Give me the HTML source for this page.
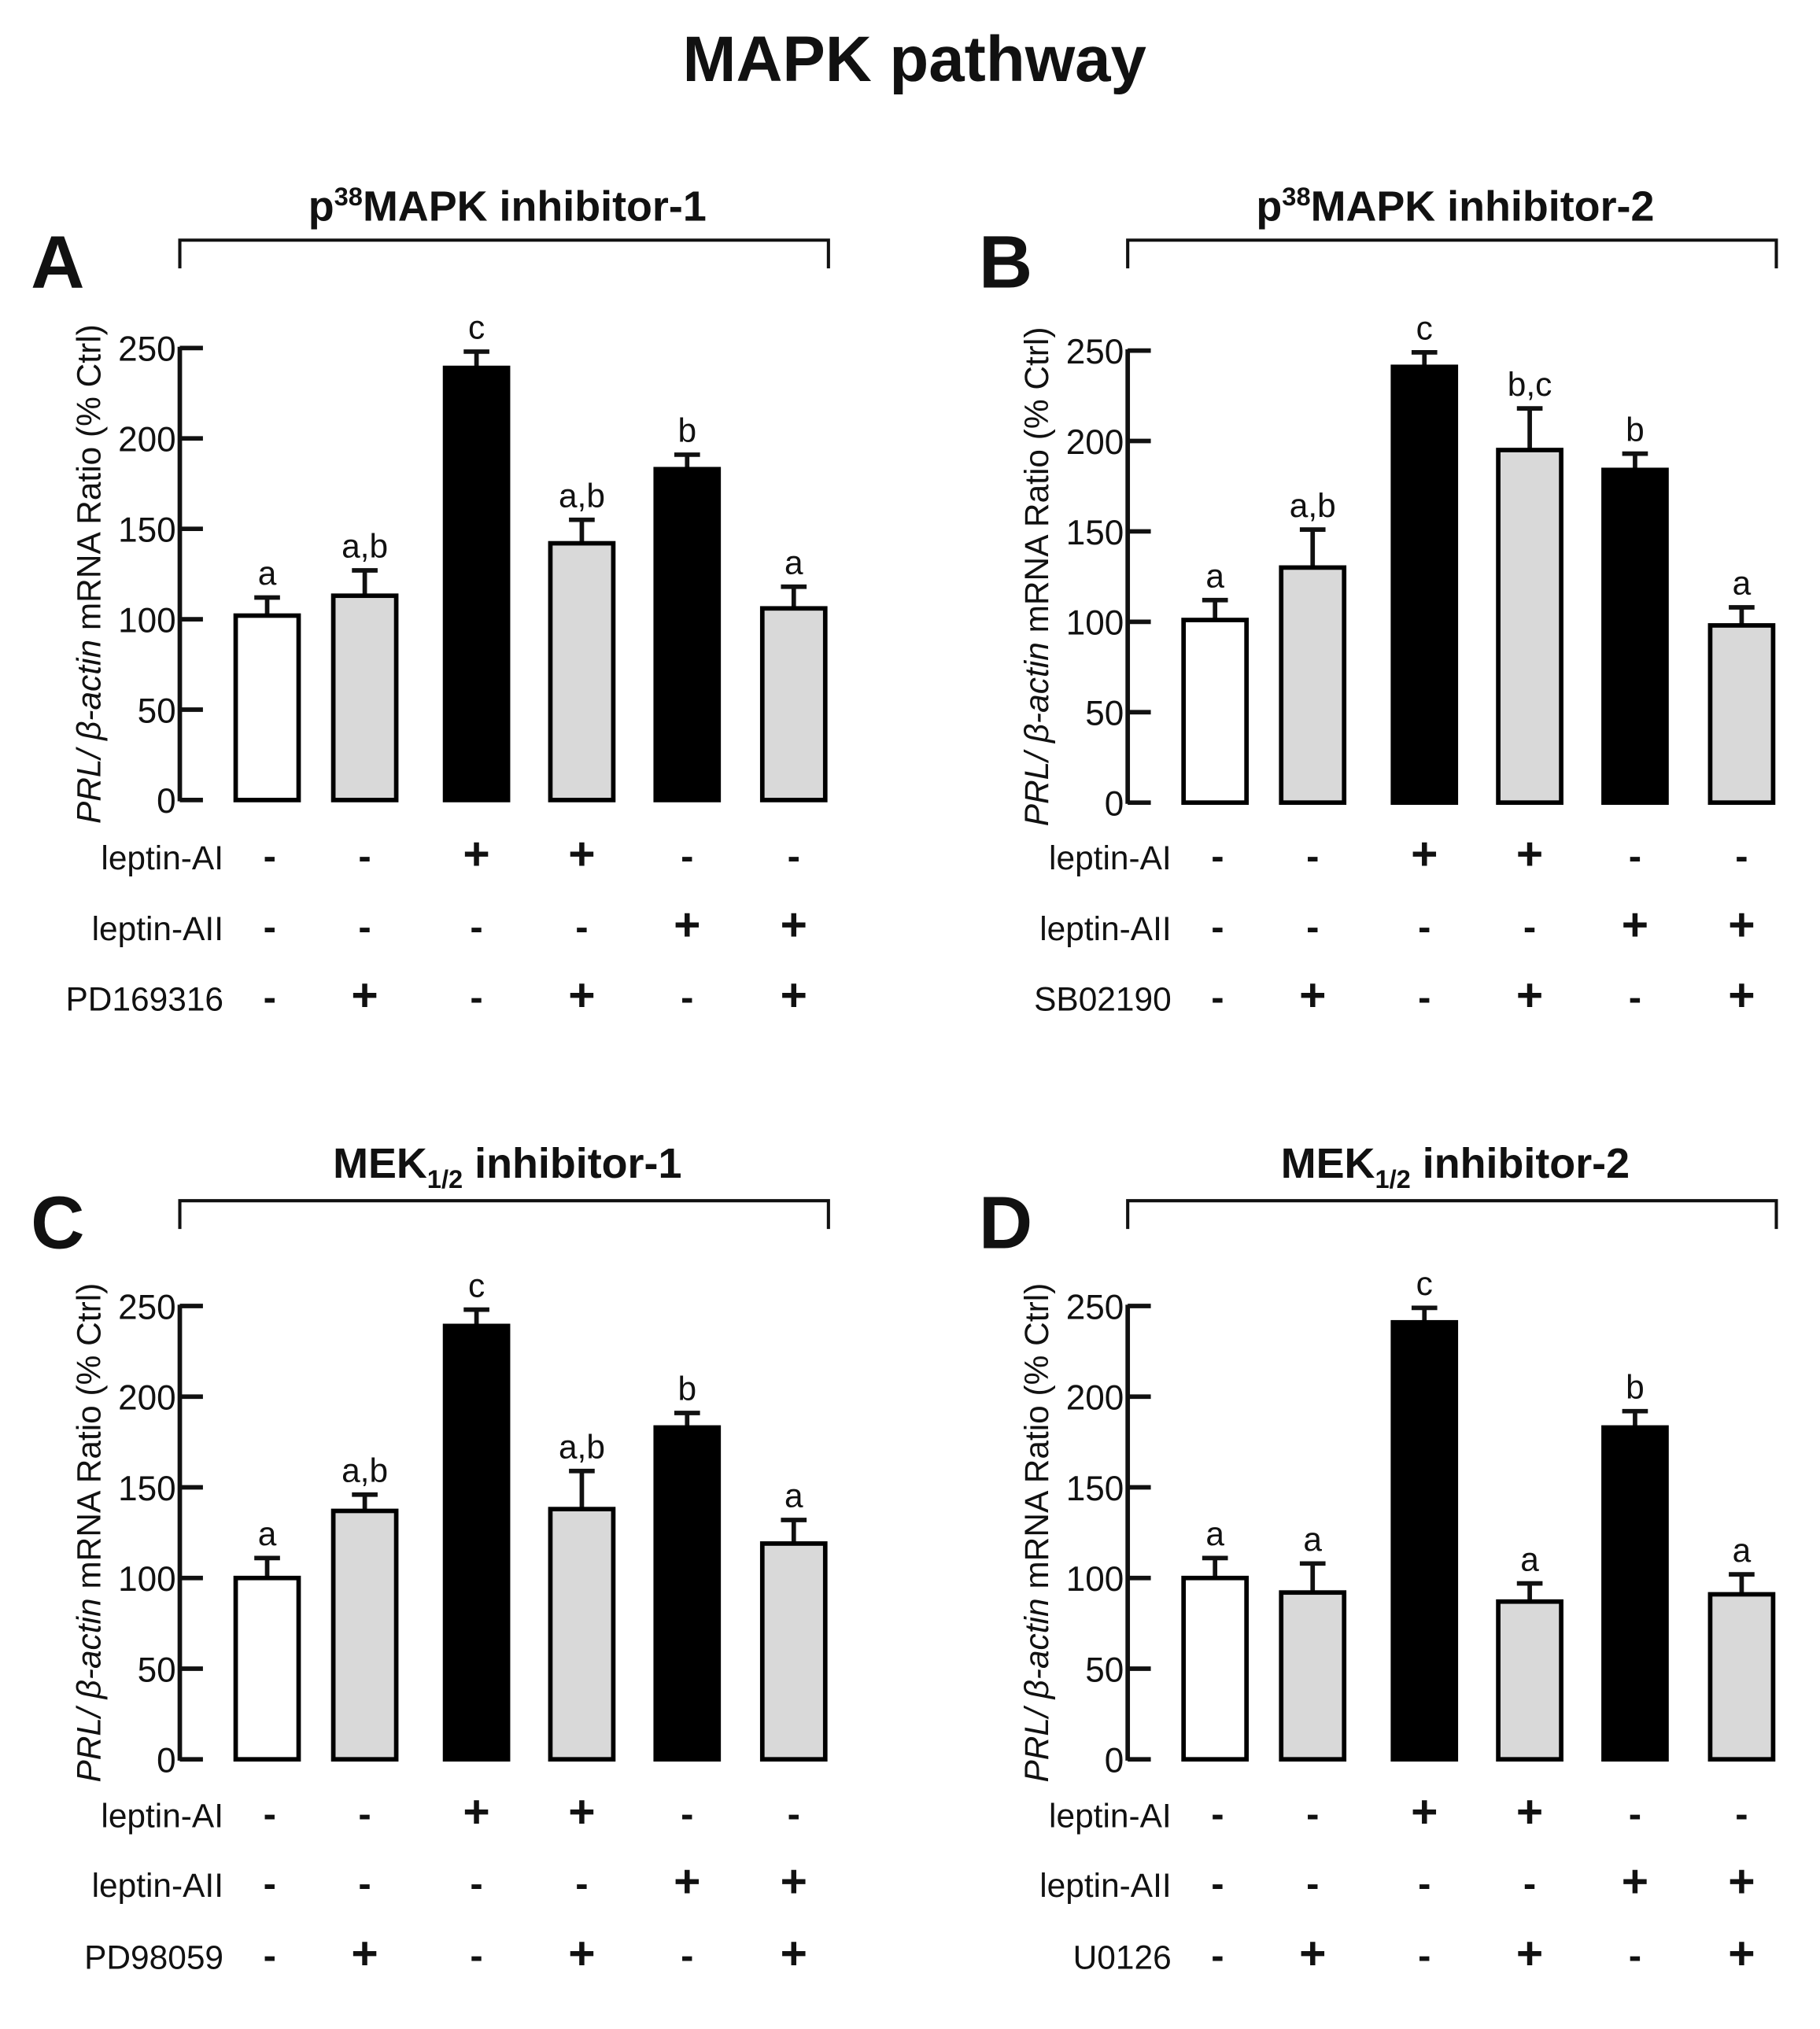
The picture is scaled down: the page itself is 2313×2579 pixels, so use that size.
<!DOCTYPE html>
<html><head><meta charset="utf-8"><style>
html,body{margin:0;padding:0;background:#fff}
svg{display:block}
text{font-family:"Liberation Sans",Arial,sans-serif;fill:#111}
</style></head><body>
<svg id="fig" width="2313" height="2579" viewBox="0 0 1417 1580" preserveAspectRatio="none" xmlns="http://www.w3.org/2000/svg">
<text x="712" y="63" text-anchor="middle" font-size="50" font-weight="bold">MAPK pathway</text>
</svg>
<script>
// Data
const categories = ["ctrl","inhibitor","leptin-AI","leptin-AI+inh","leptin-AII","leptin-AII+inh"];
const barColors = ["#fff","#d9d9d9","#000","#d9d9d9","#000","#d9d9d9"];
const valuesA = [102,113,239,142,183,106];
const errorsA = [10,14,9,13,8,12];
const lettersA = ["a","a,b","c","a,b","b","a"];
const valuesB = [101,130,241,195,184,98];
const errorsB = [11,21,8,23,9,10];
const lettersB = ["a","a,b","c","b,c","b","a"];
const valuesC = [100,137,239,138,183,119];
const errorsC = [11,9,9,21,8,13];
const lettersC = ["a","a,b","c","a,b","b","a"];
const valuesD = [100,92,241,87,183,91];
const errorsD = [11,16,8,10,9,11];
const lettersD = ["a","a","c","a","b","a"];
const yTicks = [0,50,100,150,200,250];
const rowAI = ["-","-","+","+","-","-"];
const rowAII = ["-","-","-","-","+","+"];
const rowInh = ["-","+","-","+","-","+"];

const svg = document.getElementById('fig');
const NS = "http://www.w3.org/2000/svg";
function mk(tag, attrs, parent){
  const e = document.createElementNS(NS, tag);
  for (const k in attrs) e.setAttribute(k, attrs[k]);
  (parent||svg).appendChild(e); return e;
}
const panels = [
  {id:"a", letter:"A", title:"p", sup:"38", rest:"MAPK inhibitor-1", sub:null, dx:0, y0:623, y250:271, vals:valuesA, errs:errorsA, lets:lettersA, inh:"PD169316", titleY:160, brY:187, rows:[667,722,777]},
  {id:"b", letter:"B", title:"p", sup:"38", rest:"MAPK inhibitor-2", sub:null, dx:738, y0:625, y250:273, vals:valuesB, errs:errorsB, lets:lettersB, inh:"SB02190", titleY:160, brY:187, rows:[667,722,777]},
  {id:"c", letter:"C", title:"MEK", sub:"1/2", rest:" inhibitor-1", dx:0, y0:1370, y250:1017, vals:valuesC, errs:errorsC, lets:lettersC, inh:"PD98059", titleY:905, brY:935, rows:[1413,1467,1523]},
  {id:"d", letter:"D", title:"MEK", sub:"1/2", rest:" inhibitor-2", dx:738, y0:1370, y250:1017, vals:valuesD, errs:errorsD, lets:lettersD, inh:"U0126", titleY:905, brY:935, rows:[1413,1467,1523]}
];
const centers = [208,284,371,453,535,618];
const bw = 49;
panels.forEach(p=>{
  const g = mk('g',{});
  
  
  const ax = 140 + p.dx;
  const y = v => p.y0 - (p.y250 - p.y0) * -v / 250;
  const xc = i => centers[i] + p.dx;
  // panel letter
  const L = mk('text',{x:24+p.dx, y:p.brY+37, 'font-size':58, 'font-weight':'bold'}, g);
  L.textContent = p.letter;
  
  
  // title
  const T = mk('text',{x:395+p.dx, y:p.titleY+12, 'text-anchor':'middle','font-size':33,'font-weight':'bold'}, g);
  
  
  const t1 = mk('tspan',{},T); t1.textContent = p.title;
  if (p.sup){ const s = mk('tspan',{dy:-12,'font-size':20},T); s.textContent=p.sup; const r=mk('tspan',{dy:12},T); r.textContent=p.rest; }
  else { const s = mk('tspan',{dy:8,'font-size':20},T); s.textContent=p.sub; const r=mk('tspan',{dy:-8},T); r.textContent=p.rest; }
  // bracket
  const br = mk('path',{d:`M${140+p.dx} ${p.brY+22}V${p.brY}H${645+p.dx}V${p.brY+22}`, fill:'none', stroke:'#111','stroke-width':2.5}, g);
  
  
  // axis
  const axl = mk('line',{x1:ax,x2:ax,y1:y(250)-1,y2:y(0)+1,stroke:'#111','stroke-width':3.5}, g);
  
  
  yTicks.forEach(t=>{
    const tl = mk('line',{x1:ax,x2:ax+18,y1:y(t),y2:y(t),stroke:'#111','stroke-width':3.5}, g);
    
    
    const tt = mk('text',{x:ax-3,y:y(t)+10,'text-anchor':'end','font-size':27,fill:'#222'}, g);
    tt.textContent = t;
    
    
  });
  // y title
  const yt = mk('text',{transform:`translate(${78+p.dx},${(y(0)+y(250))/2}) rotate(-90)`,'text-anchor':'middle','font-size':26,fill:'#222'}, g);
  
  
  const i1 = mk('tspan',{'font-style':'italic'},yt); i1.textContent='PRL/ β-actin';
  const i2 = mk('tspan',{},yt); i2.textContent=' mRNA Ratio (% Ctrl)';
  // bars
  p.vals.forEach((v,i)=>{
    const top = y(v), bot = y(0);
    const eTop = y(v + p.errs[i]);
    const el = mk('line',{x1:xc(i),x2:xc(i),y1:top,y2:eTop,stroke:'#111','stroke-width':3.5}, g);
    
    
    const cap = mk('line',{x1:xc(i)-10,x2:xc(i)+10,y1:eTop,y2:eTop,stroke:'#111','stroke-width':3.5}, g);
    
    
    const r = mk('rect',{x:xc(i)-bw/2,y:top,width:bw,height:bot-top,fill:barColors[i],stroke:'#000','stroke-width':3.5}, g);
    
    
    const lt = mk('text',{x:xc(i),y:eTop-10,'text-anchor':'middle','font-size':26,fill:'#222'}, g);
    lt.textContent = p.lets[i];
    
    
  });
  // treatment rows
  const rows = [["leptin-AI",rowAI],["leptin-AII",rowAII],[p.inh,rowInh]];
  rows.forEach((rw,k)=>{
    const ry = p.rows[k];
    const lb = mk('text',{x:174+p.dx,y:ry+10,'text-anchor':'end','font-size':26,fill:'#222'}, g);
    lb.textContent = rw[0];
    
    
    rw[1].forEach((s,i)=>{
      const sx = (i===0?210:centers[i]) + p.dx;
      const st = mk('text',{x:sx,y:ry+(s==='+'?10:10),'text-anchor':'middle','font-size':s==='+'?36:30,'font-weight':'bold',fill:'#111'}, g);
      st.textContent = s;
      
      
    });
  });
});
</script>
</body></html>
